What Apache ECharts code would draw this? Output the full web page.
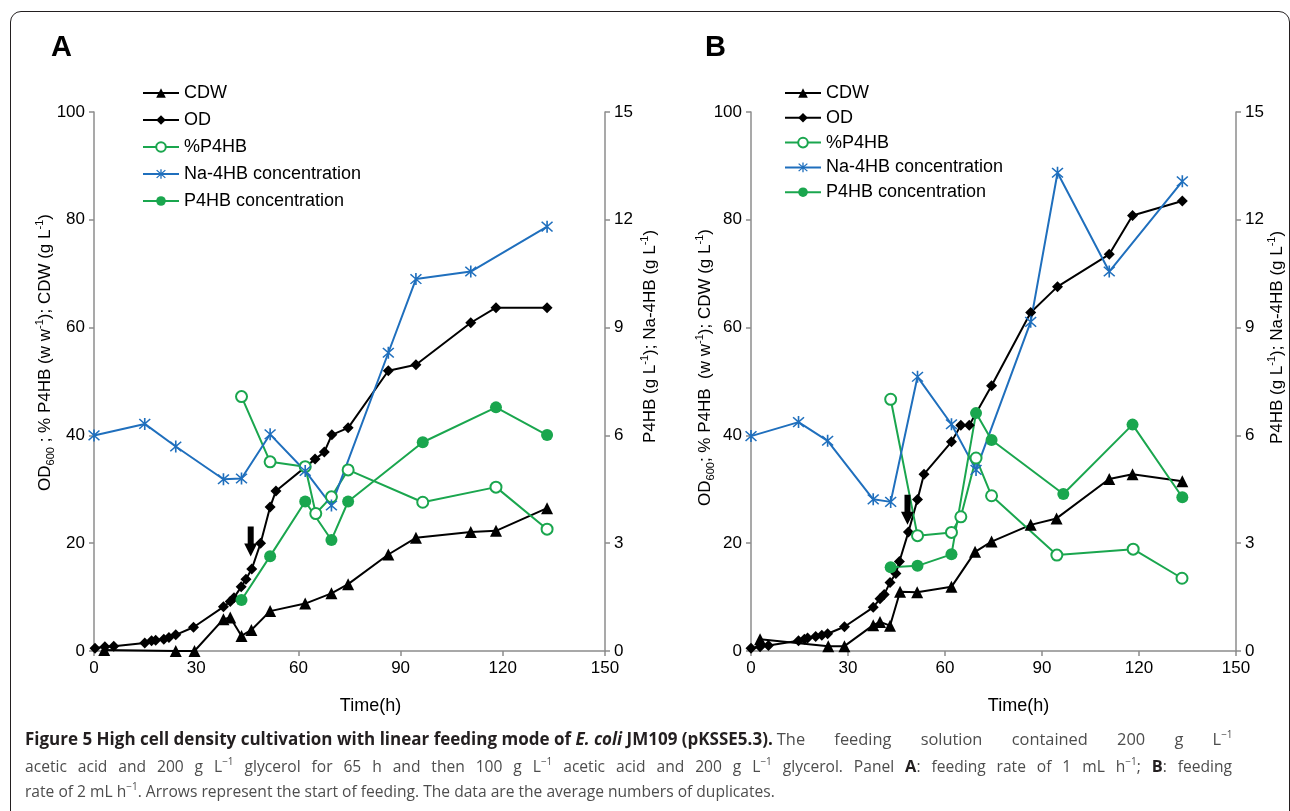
<!DOCTYPE html>
<html>
<head>
<meta charset="utf-8">
<script src="https://cdn.jsdelivr.net/npm/echarts@6/dist/echarts.min.js"></script>
<style>
html,body{margin:0;padding:0;background:#fff;}
#wrap{position:relative;width:1290px;height:811px;overflow:hidden;}
#frame{position:absolute;left:10px;top:11px;width:1280px;height:820px;border:1.5px solid #231f20;border-radius:11px;box-sizing:border-box;}
#chart{position:absolute;left:0;top:0;width:1290px;height:811px;}
#cap{position:absolute;left:25px;top:726px;width:1207px;font-family:"Open Sans",sans-serif;font-size:15.6px;line-height:25.5px;color:#4d4d4d;}
#cap .j{text-align:justify;text-align-last:justify;white-space:nowrap;}
#cap .l{white-space:nowrap;}
#cap b{color:#231f20;font-size:16.4px;}
#cap b.big{font-size:17px;}
#cap .ws{word-spacing:25px;font-size:16.4px;}
#cap sup{font-size:10px;line-height:0;vertical-align:7px;word-spacing:0;}
</style>
</head>
<body>
<div id="wrap">
<div id="frame"></div>
<div id="chart"></div>
<div id="cap">
<div class="l"><b class="big">Figure 5 High cell density cultivation with linear feeding mode of <i>E. coli</i> JM109 (pKSSE5.3).</b> <span class="ws">The feeding solution contained 200 g L<sup>−1</sup></span></div>
<div class="j">acetic acid and 200 g L<sup>−1</sup> glycerol for 65 h and then 100 g L<sup>−1</sup> acetic acid and 200 g L<sup>−1</sup> glycerol. Panel <b>A</b>: feeding rate of 1 mL h<sup>−1</sup>; <b>B</b>: feeding</div>
<div class="l">rate of 2 mL h<sup>−1</sup>. Arrows represent the start of feeding. The data are the average numbers of duplicates.</div>
</div>
</div>
<script>
// ---------- Data ----------
const xTicks = [0, 30, 60, 90, 120, 150];
const seriesNames = ['CDW', 'OD', '%P4HB', 'Na-4HB concentration', 'P4HB concentration'];

// Panel A (feeding rate 1 mL/h)
const cdwA_t = [3, 24, 29.5, 38, 40, 43.3, 46.2, 51.7, 62, 69.7, 74.6, 86.4, 94.5, 110.6, 118, 133];
const cdwA_v = [0.2, 0, 0, 5.9, 6.2, 2.8, 3.9, 7.4, 8.8, 10.7, 12.4, 17.9, 21, 22.1, 22.3, 26.5];
const odA_t = [0.3, 3.2, 5.8, 14.9, 16.9, 18.1, 20.5, 22, 24, 29.2, 38, 40, 41.1, 43.2, 44.6, 46.3, 48.9, 51.7, 53.4, 64.9, 67.6, 69.8, 74.6, 86.4, 94.5, 110.6, 118, 133];
const odA_v = [0.5, 0.8, 0.9, 1.5, 1.9, 2.0, 2.2, 2.5, 3.0, 4.4, 8.2, 9.2, 9.9, 11.9, 13.3, 15.2, 20.0, 26.7, 29.7, 35.6, 36.9, 40.1, 41.4, 52.0, 53.1, 60.9, 63.7, 63.7];
const pctA_t = [43.3, 51.7, 62, 65.1, 69.7, 74.6, 96.5, 118, 133];
const pctA_v = [47.2, 35.1, 34.2, 25.5, 28.6, 33.6, 27.6, 30.4, 22.6];
const naA_t = [0, 14.9, 24, 38, 43.3, 51.7, 62, 69.7, 86.4, 94.5, 110.6, 133];
const naA_v = [6.0, 6.32, 5.69, 4.78, 4.8, 6.03, 5.01, 4.05, 8.3, 10.35, 10.56, 11.81];
const p4A_t = [43.3, 51.7, 62, 69.7, 74.6, 96.5, 118, 133];
const p4A_v = [1.42, 2.64, 4.16, 3.09, 4.16, 5.81, 6.78, 6.01];
const arrowA = [46, 20.3];   // start of feeding (time, left-axis value)

// Panel B (feeding rate 2 mL/h)
const cdwB_t = [2.8, 23.9, 28.9, 37.8, 39.9, 43, 46.1, 51.4, 62, 69.3, 74.4, 86.5, 94.5, 110.8, 118, 133.4];
const cdwB_v = [2.2, 0.9, 0.9, 4.8, 5.4, 4.7, 11, 10.9, 11.9, 18.4, 20.3, 23.4, 24.6, 31.9, 32.8, 31.5];
const odB_t = [0, 2.8, 5.4, 14.7, 16.5, 17.5, 20, 21.9, 23.7, 28.9, 37.8, 39.9, 41.2, 43, 44.8, 45.9, 48.7, 51.5, 53.5, 62, 64.9, 67.5, 74.4, 86.5, 94.8, 110.8, 118, 133.4];
const odB_v = [0.5, 0.8, 1.0, 1.9, 2.2, 2.4, 2.7, 2.9, 3.2, 4.5, 8.1, 9.7, 10.5, 12.7, 14.4, 16.6, 22.1, 28.1, 32.8, 38.8, 41.9, 41.9, 49.2, 62.8, 67.6, 73.6, 80.8, 83.5];
const pctB_t = [43.2, 51.5, 62, 64.9, 69.6, 74.4, 94.6, 118.2, 133.3];
const pctB_v = [46.7, 21.4, 22.0, 24.9, 35.8, 28.8, 17.8, 18.9, 13.5];
const naB_t = [0, 14.7, 23.7, 37.8, 43.2, 51.5, 62, 69.6, 86.5, 94.8, 110.8, 133.4];
const naB_v = [5.98, 6.37, 5.85, 4.22, 4.15, 7.63, 6.31, 5.04, 9.16, 13.31, 10.56, 13.07];
const p4B_t = [43.2, 51.5, 62, 69.6, 74.4, 96.6, 118, 133.4];
const p4B_v = [2.33, 2.37, 2.69, 6.62, 5.87, 4.37, 6.3, 4.28];
const arrowB = [48.4, 26.2];

// ---------- Styling ----------
const BLACK = '#000000', GREEN = '#1aa64e', BLUE = '#1f6fbd', AXIS = '#8c8c8c';
const FONT = '"Liberation Sans", Arial, sans-serif';
const asterisk = 'path://M4.4,0L5.6,0L5.6,10L4.4,10Z M0.6,1.4L1.4,0.6L9.4,8.6L8.6,9.4Z M8.6,0.6L9.4,1.4L1.4,9.4L0.6,8.6Z';
const arrowPath = 'path://M3.5,0L9.5,0L9.5,17L13,17L6.5,30L0,17L3.5,17Z';

const pair = (t, v) => t.map((x, i) => [x, v[i]]);

function makeSeries(idx, d, arrow) {
  const base = { type: 'line', xAxisIndex: idx, animation: false, lineStyle: { width: 2 }, z: 2 };
  return [
    Object.assign({}, base, { name: seriesNames[0], yAxisIndex: idx * 2, data: pair(d.cdw_t, d.cdw_v),
      symbol: 'triangle', symbolSize: 12, itemStyle: { color: BLACK }, lineStyle: { width: 2, color: BLACK } }),
    Object.assign({}, base, { name: seriesNames[1], yAxisIndex: idx * 2, data: pair(d.od_t, d.od_v),
      symbol: 'diamond', symbolSize: 11, itemStyle: { color: BLACK }, lineStyle: { width: 2, color: BLACK },
      markPoint: { symbol: arrowPath, symbolSize: [13, 30], silent: true, label: { show: false },
        itemStyle: { color: BLACK }, data: [{ coord: arrow }] } }),
    Object.assign({}, base, { name: seriesNames[2], yAxisIndex: idx * 2, data: pair(d.pct_t, d.pct_v),
      symbol: 'emptyCircle', symbolSize: 11, itemStyle: { color: GREEN, borderColor: GREEN, borderWidth: 1.5 },
      lineStyle: { width: 2, color: GREEN } }),
    Object.assign({}, base, { name: seriesNames[3], yAxisIndex: idx * 2 + 1, data: pair(d.na_t, d.na_v),
      symbol: asterisk, symbolSize: 12, itemStyle: { color: BLUE }, lineStyle: { width: 2, color: BLUE } }),
    Object.assign({}, base, { name: seriesNames[4], yAxisIndex: idx * 2 + 1, data: pair(d.p4_t, d.p4_v),
      symbol: 'circle', symbolSize: 12, itemStyle: { color: GREEN }, lineStyle: { width: 2, color: GREEN } })
  ];
}

const axisCommon = {
  axisLine: { show: true, lineStyle: { color: AXIS, width: 1.5 } },
  axisTick: { show: true, inside: false, length: 5, lineStyle: { color: AXIS, width: 1.5 } },
  axisLabel: { color: '#000', fontSize: 17, fontFamily: FONT, margin: 9 },
  splitLine: { show: false },
  nameMoveOverlap: false
};
const nameRich = {
  t: { fontSize: 17, fontFamily: FONT, color: '#000', lineHeight: 22 },
  sub: { fontSize: 11, fontFamily: FONT, color: '#000', verticalAlign: 'bottom', lineHeight: 12 },
  sup: { fontSize: 11, fontFamily: FONT, color: '#000', verticalAlign: 'top', lineHeight: 12 }
};
const leftNameA = '{t|OD}{sub|600}{t| ; % P4HB (w w}{sup|-1}{t|); CDW (g L}{sup|-1}{t|)}';
const leftNameB = '{t|OD}{sub|600}{t|; % P4HB  (w w}{sup|-1}{t|); CDW (g L}{sup|-1}{t|)}';
const rightName = '{t|P4HB (g L}{sup|-1}{t|); Na-4HB (g L}{sup|-1}{t|)}';

function xAx(idx, shift) {
  return Object.assign({}, axisCommon, { type: 'value', gridIndex: idx, min: xTicks[0], max: xTicks[xTicks.length - 1], interval: 30,
    name: 'Time(h)', nameLocation: 'middle', nameGap: 46,
    nameTextStyle: { fontSize: 18, fontFamily: FONT, color: '#000', padding: [0, 0, 0, shift] } });
}
function yAx(idx, side, name, gap, shift) {
  const right = side === 'right';
  return Object.assign({}, axisCommon, { type: 'value', gridIndex: idx, position: side,
    min: 0, max: right ? 15 : 100, interval: right ? 3 : 20,
    name: name, nameLocation: 'middle', nameRotate: 90, nameGap: gap,
    nameTextStyle: { rich: nameRich, padding: [0, 0, 0, shift] } });
}

const legendCommon = { orient: 'vertical', itemWidth: 36, itemHeight: 12, data: seriesNames, selectedMode: false,
  textStyle: { fontSize: 18, fontFamily: FONT, color: '#000' } };

const chart = echarts.init(document.getElementById('chart'), null, { renderer: 'canvas' });
chart.setOption({
  animation: false,
  backgroundColor: 'transparent',
  grid: [
    { left: 94, top: 112, width: 511, height: 539 },
    { left: 751, top: 112, width: 485, height: 539 }
  ],
  xAxis: [xAx(0, 42), xAx(1, 50)],
  yAxis: [yAx(0, 'left', leftNameA, 38, 58), yAx(0, 'right', rightName, 34, 90),
          yAx(1, 'left', leftNameB, 35, 28), yAx(1, 'right', rightName, 30, 88)],
  legend: [
    Object.assign({}, legendCommon, { left: 137, top: 79, itemGap: 9 }),
    Object.assign({}, legendCommon, { left: 779, top: 79, itemGap: 6.8 })
  ],
  graphic: [
    { type: 'text', left: 51, top: 33, style: { text: 'A', fontSize: 29, fontWeight: 'bold', fontFamily: FONT, fill: '#000' } },
    { type: 'text', left: 705, top: 33, style: { text: 'B', fontSize: 29, fontWeight: 'bold', fontFamily: FONT, fill: '#000' } }
  ],
  series: [].concat(
    makeSeries(0, { cdw_t: cdwA_t, cdw_v: cdwA_v, od_t: odA_t, od_v: odA_v, pct_t: pctA_t, pct_v: pctA_v, na_t: naA_t, na_v: naA_v, p4_t: p4A_t, p4_v: p4A_v }, arrowA),
    makeSeries(1, { cdw_t: cdwB_t, cdw_v: cdwB_v, od_t: odB_t, od_v: odB_v, pct_t: pctB_t, pct_v: pctB_v, na_t: naB_t, na_v: naB_v, p4_t: p4B_t, p4_v: p4B_v }, arrowB)
  )
});
</script>
</body>
</html>
